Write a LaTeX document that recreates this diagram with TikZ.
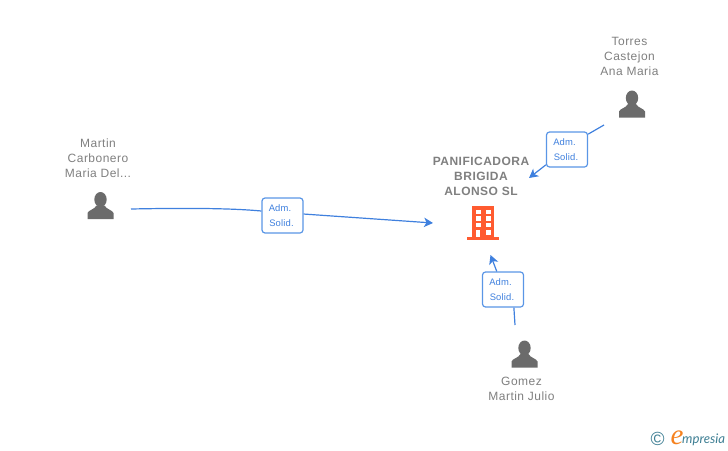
\documentclass[tikz,border=0pt]{standalone}
\usepackage{fontspec}
\setmainfont{Liberation Sans}
\newfontfamily\logofont{Liberation Serif}
\newfontfamily\logotextfont{Lato}
\newfontfamily\widefont[LetterSpace=4]{Liberation Sans}
\newfontfamily\rolefont[LetterSpace=2]{Liberation Sans}
\usetikzlibrary{arrows.meta}
\definecolor{namegray}{HTML}{7F7F7F}
\definecolor{icongray}{HTML}{6B6B6B}
\definecolor{linkblue}{HTML}{3F80DE}
\definecolor{boxblue}{HTML}{5A96E6}
\definecolor{brickred}{HTML}{FF5B30}
\definecolor{logoteal}{HTML}{3F7F94}
\definecolor{logoorange}{HTML}{F58220}
\newcommand{\admsolid}{Adm.\kern5pt\\Solid.\kern2pt}
\tikzset{
  nametext/.style={text=namegray,align=center,inner sep=0pt,font=\widefont\fontsize{12}{15}\selectfont},
  titletext/.style={nametext,font=\widefont\fontsize{12}{15}\selectfont\bfseries},
  rolebox/.style={draw=boxblue,line width=1.2pt,rounded corners=3pt,fill=white,text=linkblue,
    minimum width=41pt,minimum height=35pt,inner sep=0pt,align=center,font=\rolefont\fontsize{9.4}{15}\selectfont},
  link/.style={draw=linkblue,line width=1.2pt},
  tolink/.style={link,-{Stealth[length=9pt,width=9.5pt,inset=2.5pt]}},
  person/.pic={
    \fill[icongray] (0,-6) ellipse (6.2 and 7.5);
    \fill[icongray] (-13,13.5) -- (-13,7.5) .. controls (-12,4.5) and (-6,4) .. (-4,0)
      -- (4,0) .. controls (6,4) and (12,4.5) .. (13,7.5) -- (13,13.5) -- cycle;
  }
}

\begin{document}
\begin{tikzpicture}[x=1pt,y=-1pt]
  \useasboundingbox (0,0) rectangle (728,450);

  % Martin
  \node[nametext] (martin) at (98,158) {Martin\\Carbonero\\Maria Del...};
  \pic at (100.5,205.5) {person};
  \coordinate (martinout) at (131,209);

  % Torres
  \node[nametext] (torres) at (629.5,56) {Torres\\Castejon\\Ana Maria};
  \pic at (632,104) {person};
  \coordinate (torresout) at (604,125);

  % Gomez
  \node[nametext] (gomez) at (521.5,388.5) {Gomez\\Martin Julio};
  \pic at (524.5,354) {person};
  \coordinate (gomezout) at (515,325);

  % company
  \node[titletext] (company) at (481,176.5) {PANIFICADORA\\BRIGIDA\\ALONSO SL};
  \fill[brickred] (472,206) rectangle (494,238);
  \fill[brickred] (467,237) rectangle (499,239.5);
  \foreach \wy in {209.8,216.3,222.8}{
    \fill[white] (475.5,\wy) rectangle +(5,4.5);
    \fill[white] (485.5,\wy) rectangle +(5,4.5);
  }
  \fill[white] (475.8,230) rectangle (480.2,237);
  \fill[white] (485.5,230) rectangle +(5,4.5);
  \coordinate (companyw) at (433,223);
  \coordinate (companyn) at (529,178);
  \coordinate (companys) at (490.5,255);

  % roles
  \node[rolebox] (adm1) at (282.5,215.5) {\admsolid};
  \node[rolebox] (adm2) at (567,149.5) {\admsolid};
  \node[rolebox] (adm3) at (503,289.5) {\admsolid};

  \draw[link] (martinout) .. controls (180,208) and (230,208) .. (adm1.168);
  \draw[tolink] (adm1.4) -- (companyw);
  \draw[link] (torresout) -- (adm2.36);
  \draw[tolink] (adm2.216) -- (companyn);
  \draw[link] (gomezout) -- (adm3.301);
  \draw[tolink] (adm3.109) -- (companys);

  % logo
  \node[text=logoteal,inner sep=0pt,font=\fontsize{19}{19}\selectfont] (copy) at (657.5,438.5) {©};
  \node[text=logoorange,inner sep=0pt,anchor=base,font=\logofont\itshape\fontsize{29}{29}\selectfont] (logoe) at (677,444) {e};
  \node[text=logoteal,inner sep=0pt,anchor=base west,font=\logotextfont\itshape\fontsize{13.2}{14}\selectfont] (logotext) at (682,443) {mpresia};
\end{tikzpicture}
\end{document}
